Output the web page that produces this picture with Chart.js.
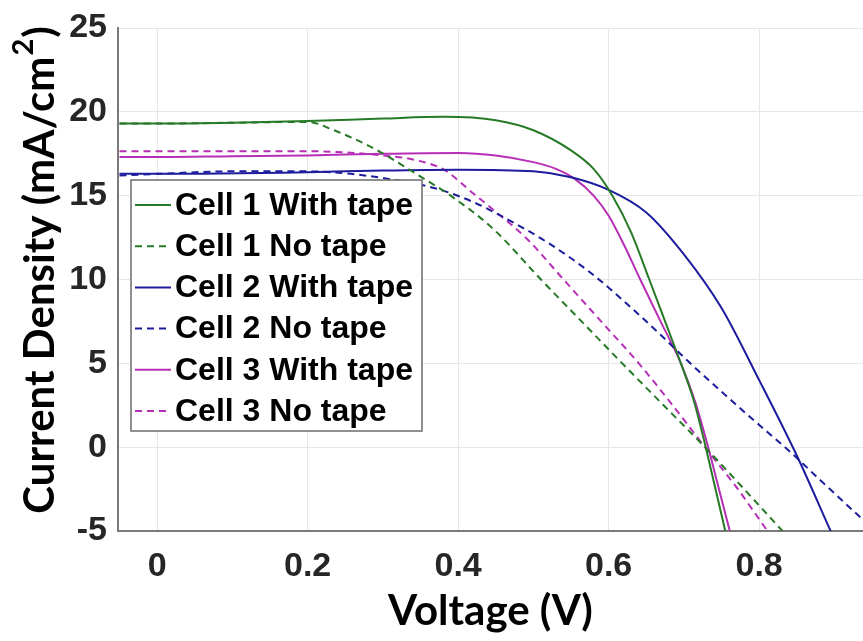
<!DOCTYPE html>
<html>
<head>
<meta charset="utf-8">
<script src="https://cdn.jsdelivr.net/npm/chart.js@4.4.1/dist/chart.umd.min.js"></script>
<style>
  html,body{margin:0;padding:0;background:#fff;}
  #wrap{position:relative;width:863px;height:641px;}
</style>
</head>
<body>
<div id="wrap"><canvas id="jv" width="863" height="641"></canvas></div>
<script>
// tick values
const xTicks = [0, 0.2, 0.4, 0.6, 0.8];
const yTicks = [-5, 0, 5, 10, 15, 20, 25];

// Cell 1 with tape
const c1TapeV = [-0.05, 0, 0.1, 0.2, 0.3, 0.38, 0.45, 0.5, 0.55, 0.58, 0.605, 0.63, 0.654, 0.675, 0.696, 0.713, 0.729, 0.742, 0.755];
const c1TapeJ = [19.3, 19.3, 19.35, 19.45, 19.6, 19.7, 19.5, 18.9, 17.7, 16.6, 15.0, 12.8, 10.0, 7.5, 5.0, 2.8, 0.0, -2.5, -5.0];
// Cell 1 no tape
const c1NoV = [-0.05, 0, 0.1, 0.2, 0.235, 0.28, 0.31, 0.346, 0.39, 0.447, 0.51, 0.564, 0.618, 0.673, 0.728, 0.78, 0.831];
const c1NoJ = [19.3, 19.3, 19.35, 19.4, 18.9, 18.0, 17.25, 16.25, 15.0, 13.0, 10.0, 7.5, 5.0, 2.5, 0.0, -2.5, -5.0];
// Cell 2 with tape
const c2TapeV = [-0.05, 0, 0.2, 0.3, 0.4, 0.5, 0.55, 0.6, 0.65, 0.7, 0.75, 0.8, 0.85, 0.895];
const c2TapeJ = [16.3, 16.3, 16.4, 16.5, 16.55, 16.45, 16.1, 15.35, 14.0, 11.5, 8.3, 4.0, -0.5, -5.0];
// Cell 2 no tape
const c2NoV = [-0.05, 0, 0.1, 0.2, 0.257, 0.3, 0.346, 0.38, 0.421, 0.465, 0.519, 0.576, 0.633, 0.669, 0.705, 0.749, 0.793, 0.838, 0.882, 0.935, 0.96];
const c2NoJ = [16.2, 16.3, 16.45, 16.45, 16.3, 16.05, 15.7, 15.3, 14.6, 13.6, 12.2, 10.4, 8.2, 6.7, 5.15, 3.35, 1.6, -0.15, -2.0, -4.2, -5.2];
// Cell 3 with tape
const c3TapeV = [-0.05, 0, 0.1, 0.2, 0.3, 0.4, 0.45, 0.5, 0.53, 0.555, 0.58, 0.6, 0.62, 0.642, 0.669, 0.696, 0.715, 0.731, 0.746, 0.761];
const c3TapeJ = [17.3, 17.3, 17.35, 17.4, 17.5, 17.55, 17.4, 17.0, 16.6, 16.0, 15.0, 13.8, 12.1, 10.0, 7.5, 5.0, 2.7, 0.2, -2.4, -5.0];
// Cell 3 no tape
const c3NoV = [-0.05, 0, 0.1, 0.2, 0.3, 0.346, 0.381, 0.421, 0.447, 0.492, 0.54, 0.59, 0.64, 0.685, 0.728, 0.77, 0.811];
const c3NoJ = [17.65, 17.65, 17.65, 17.65, 17.4, 17.1, 16.55, 15.1, 14.15, 12.4, 10.0, 7.5, 5.0, 2.5, 0.0, -2.4, -5.0];

const green = '#267a26', blue = '#1c1c9c', magenta = '#b62fb6';
const dash = [7, 5];

function pts(vs, js){ return vs.map((v,i)=>({x:v, y:js[i]})); }
function series(label, vs, js, color, dashed){
  return {label, data:pts(vs,js), borderColor:color, backgroundColor:color, borderWidth:2,
    borderDash: dashed ? dash : [], pointRadius:0, cubicInterpolationMode:'monotone', fill:false};
}

const datasets = [
  series('Cell 1 With tape', c1TapeV, c1TapeJ, green, false),
  series('Cell 1 No tape', c1NoV, c1NoJ, green, true),
  series('Cell 2 With tape', c2TapeV, c2TapeJ, blue, false),
  series('Cell 2 No tape', c2NoV, c2NoJ, blue, true),
  series('Cell 3 With tape', c3TapeV, c3TapeJ, magenta, false),
  series('Cell 3 No tape', c3NoV, c3NoJ, magenta, true)
];

// legend box inside the plot, MATLAB style
const boxLegend = {
  id:'boxLegend',
  afterDraw(chart){
    const ctx = chart.ctx;
    const x0 = 131, y0 = 180, w = 291, h = 251, row = 41.2;
    ctx.save();
    ctx.fillStyle = '#fff';
    ctx.fillRect(x0, y0, w, h);
    ctx.strokeStyle = '#6b6b6b';
    ctx.lineWidth = 1.5;
    ctx.strokeRect(x0, y0, w, h);
    ctx.font = 'bold 32px "Liberation Sans", Arial, sans-serif';
    ctx.textBaseline = 'middle';
    chart.data.datasets.forEach((ds,i)=>{
      const cy = y0 + 25 + i*row;
      ctx.strokeStyle = ds.borderColor;
      ctx.lineWidth = 2;
      ctx.setLineDash(ds.borderDash);
      ctx.beginPath(); ctx.moveTo(135, cy); ctx.lineTo(171, cy); ctx.stroke();
      ctx.setLineDash([]);
      ctx.fillStyle = '#000';
      ctx.fillText(ds.label, 175, cy + 1);
    });
    ctx.restore();
  }
};

// y axis title with a real superscript
const yTitle = {
  id:'yTitle',
  afterDraw(chart){
    const ctx = chart.ctx;
    const main = 'Current Density (mA/cm', sup = '2', tail = ')';
    ctx.save();
    ctx.translate(40, 271);
    ctx.rotate(-Math.PI/2);
    ctx.textBaseline = 'middle';
    ctx.fillStyle = '#000';
    const big = 'bold 42px Lato, sans-serif', small = 'bold 29px Lato, sans-serif';
    ctx.font = big; const w1 = ctx.measureText(main).width, w3 = ctx.measureText(tail).width;
    ctx.font = small; const w2 = ctx.measureText(sup).width;
    let x = -(w1 + w2 + w3)/2;
    ctx.font = big; ctx.fillText(main, x, 0); x += w1;
    ctx.font = small; ctx.fillText(sup, x + 1, -16); x += w2 + 2;
    ctx.font = big; ctx.fillText(tail, x, 0);
    ctx.restore();
  }
};

const tickFont = {family:'"Liberation Sans", Arial, sans-serif', size:34, weight:'bold', lineHeight:1};

new Chart(document.getElementById('jv'), {
  type:'line',
  data:{datasets},
  plugins:[boxLegend, yTitle],
  options:{
    responsive:false,
    animation:false,
    layout:{padding:{top:18, right:0, left:0, bottom:0}},
    plugins:{legend:{display:false}, tooltip:{enabled:false}},
    scales:{
      x:{
        type:'linear', min:-0.052, max:0.938,
        afterBuildTicks: s => { s.ticks = xTicks.map(v=>({value:v})); },
        afterFit: s => { s.height = 110; },
        ticks:{font:tickFont, color:'#262626', padding:19, maxRotation:0, callback: v => String(v)},
        grid:{color:'#e6e6e6', lineWidth:1, drawTicks:false},
        border:{color:'#7a7a7a', width:2},
        title:{display:true, text:'Voltage (V)', color:'#000', font:{family:'Lato, sans-serif', size:42, weight:'bold', lineHeight:1.2}, padding:{top:0, bottom:4}}
      },
      y:{
        type:'linear', min:-5, max:25,
        afterBuildTicks: s => { s.ticks = yTicks.map(v=>({value:v})); },
        afterFit: s => { s.width = 118; },
        ticks:{font:tickFont, color:'#262626', padding:11, callback: v => String(v)},
        grid:{color:'#e6e6e6', lineWidth:1, drawTicks:false},
        border:{color:'#7a7a7a', width:2}
      }
    }
  }
});
</script>
</body>
</html>
